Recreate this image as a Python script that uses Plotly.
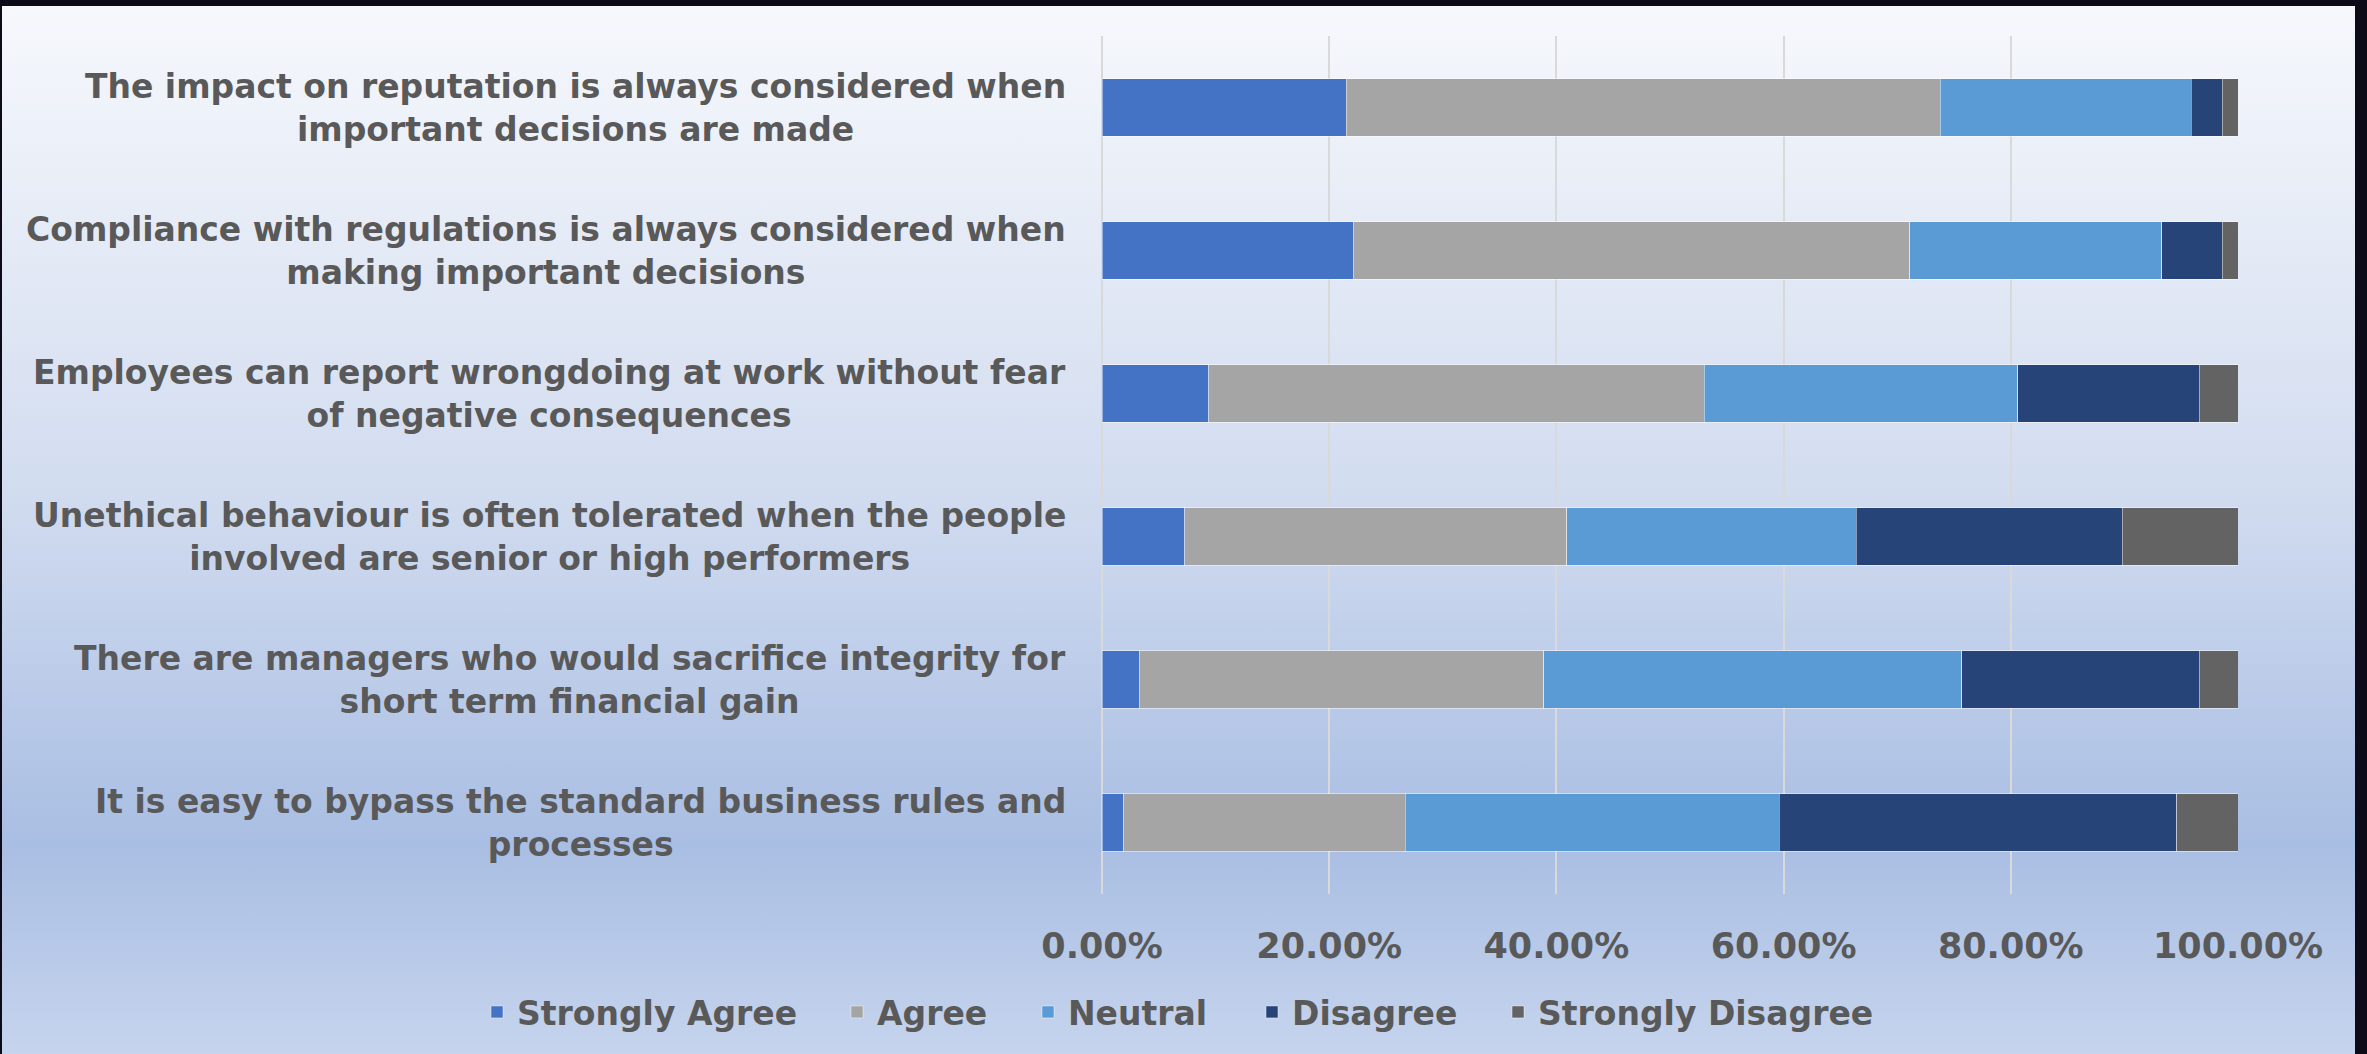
import base64
import plotly.graph_objects as go

categories = [
    "The impact on reputation is always considered when<br>important decisions are made",
    "Compliance with regulations is always considered when<br>making important decisions",
    "Employees can report wrongdoing at work without fear<br>of negative consequences",
    "Unethical behaviour is often tolerated when the people<br>involved are senior or high performers",
    "There are managers who would sacrifice integrity for<br>short term financial gain",
    "It is easy to bypass the standard business rules and<br>processes",
]
row_ids = ["q1", "q2", "q3", "q4", "q5", "q6"]

series_names = ["Strongly Agree", "Agree", "Neutral", "Disagree", "Strongly Disagree"]
strongly_agree = [0.215, 0.221, 0.094, 0.073, 0.033, 0.019]
agree = [0.523, 0.490, 0.436, 0.336, 0.356, 0.248]
neutral = [0.221, 0.222, 0.276, 0.255, 0.368, 0.329]
disagree = [0.027, 0.053, 0.160, 0.234, 0.209, 0.350]
strongly_disagree = [0.014, 0.014, 0.034, 0.102, 0.034, 0.054]
series_values = [strongly_agree, agree, neutral, disagree, strongly_disagree]
series_colors = ["#4472C4", "#A5A5A5", "#5B9BD5", "#264478", "#636363"]

tick_vals = [0, 0.2, 0.4, 0.6, 0.8, 1.0]

W, H = 2367, 1054
ML, MR, MT, MB = 1102, 129, 36, 160
PW, PH = W - ML - MR, H - MT - MB
FONT = "DejaVu Sans"
TEXT = "#595959"

# legend key centres (pixels) of the reference, one legend per series
legend_key_px = [503, 863, 1054, 1278, 1524]
legend_y_px = 1012
LEG_OFF = 26

fig = go.Figure()
legend_layouts = {}
for i, (name, vals, col) in enumerate(zip(series_names, series_values, series_colors)):
    lname = "legend" if i == 0 else f"legend{i + 1}"
    fig.add_trace(go.Bar(
        name=name, y=row_ids, x=vals, orientation="h", legend=lname,
        marker=dict(color=col, line=dict(color="rgba(255,255,255,0.45)", width=1)),
    ))
    legend_layouts[lname] = dict(
        orientation="h", xref="paper", yref="paper",
        x=(legend_key_px[i] - LEG_OFF - ML) / PW,
        y=(H - MB - legend_y_px) / PH,
        xanchor="left", yanchor="middle", bgcolor="rgba(0,0,0,0)",
        font=dict(family=FONT, size=33, color=TEXT, weight="bold"),
    )

for rid, lab in zip(row_ids, categories):
    fig.add_annotation(
        x=0, xref="paper", y=rid, yref="y", text=lab, showarrow=False,
        xanchor="right", yanchor="middle", align="center", xshift=-34,
        font=dict(family=FONT, size=33, color=TEXT, weight="bold"),
    )

svg = (
    '<svg xmlns="http://www.w3.org/2000/svg" width="100" height="100" viewBox="0 0 100 100" '
    'preserveAspectRatio="none">'
    '<defs><linearGradient id="g" x1="0" y1="0" x2="0" y2="1">'
    '<stop offset="0" stop-color="#f6f8fc"/>'
    '<stop offset="0.45" stop-color="#d3ddf0"/>'
    '<stop offset="0.8" stop-color="#a9bee3"/>'
    '<stop offset="1" stop-color="#c6d4ed"/>'
    '</linearGradient></defs><rect width="100" height="100" fill="url(#g)"/></svg>'
)
src = "data:image/svg+xml;base64," + base64.b64encode(svg.encode()).decode()

# panel (pixels): x 2..2355, y 6..H
px0, px1, py0, py1 = 2, 2355, 6, H
img = dict(source=src, xref="paper", yref="paper",
           x=(px0 - ML) / PW, y=(H - MB - py0) / PH,
           sizex=(px1 - px0) / PW, sizey=(py1 - py0) / PH,
           xanchor="left", yanchor="top", sizing="stretch", layer="below")

fig.update_layout(
    width=W, height=H,
    barmode="stack", bargap=0.6,
    paper_bgcolor="#0d0b18", plot_bgcolor="rgba(0,0,0,0)",
    margin=dict(l=ML, r=MR, t=MT, b=MB, pad=0),
    images=[img],
    xaxis=dict(range=[0, 1], tickvals=tick_vals, tickformat=".2%",
               showgrid=True, gridcolor="#d9d9d9", gridwidth=1.5,
               zeroline=True, zerolinecolor="#d9d9d9", zerolinewidth=1.5,
               showline=False, ticks="", ticklabelstandoff=28,
               tickfont=dict(family=FONT, size=35, color=TEXT, weight="bold")),
    yaxis=dict(autorange="reversed", showticklabels=False, showgrid=False,
               zeroline=False, showline=False, ticks=""),
    showlegend=True,
    **legend_layouts,
)

fig.write_html(
    "out.html",
    config={"displayModeBar": False},
    post_script="document.body.style.margin='0';document.body.style.overflow='hidden';"
                "document.body.style.background='#0d0b18';",
)
